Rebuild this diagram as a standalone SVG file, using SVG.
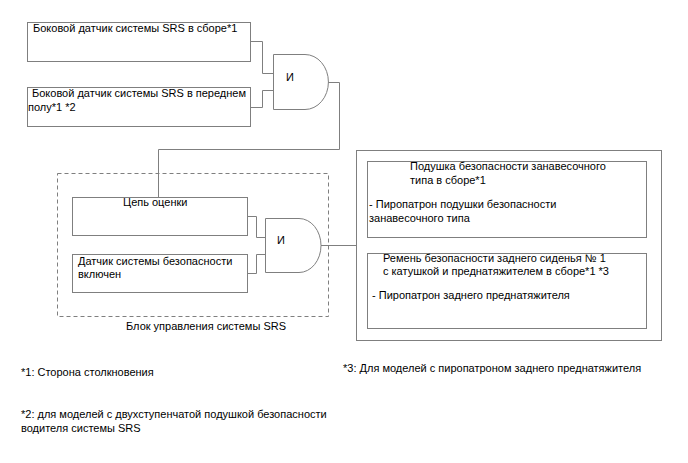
<svg xmlns="http://www.w3.org/2000/svg" width="688" height="463" viewBox="0 0 688 463">
<style>
.b{fill:#fff;stroke:#7f7f7f;stroke-width:1}
.w{fill:none;stroke:#7f7f7f;stroke-width:1}
.d{fill:none;stroke:#7f7f7f;stroke-width:1;stroke-dasharray:4,3}
text{font-family:"Liberation Sans",Arial,sans-serif;font-size:11px;fill:#000}
</style>
<rect width="688" height="463" fill="#fff"/>
<g id="connectors">
<polyline class="w" points="250.5,41.5 262.5,41.5 262.5,73.5 273.5,73.5"/>
<polyline class="w" points="250.5,107.5 262.5,107.5 262.5,90.5 273.5,90.5"/>
<polyline class="w" points="328,82.5 339.5,82.5 339.5,149.5 158.5,149.5 158.5,197.5"/>
<polyline class="w" points="247.5,216.5 256.5,216.5 256.5,237.5 265.5,237.5"/>
<polyline class="w" points="247.5,273.5 256.5,273.5 256.5,254.5 265.5,254.5"/>
<line class="w" x1="321" y1="245.5" x2="356.5" y2="245.5"/>
</g>
<g id="srs-block">
<rect class="d" x="57.5" y="173.5" width="271" height="143"/>
<text x="206" y="330" text-anchor="middle">Блок управления системы SRS</text>
</g>
<g id="side-sensor">
<rect class="b" x="27.5" y="22.5" width="223" height="39"/>
<text x="33" y="32">Боковой датчик системы SRS в сборе*1</text>
</g>
<g id="floor-sensor">
<rect class="b" x="27.5" y="87.5" width="223" height="39"/>
<text x="32" y="97">Боковой датчик системы SRS в переднем</text>
<text x="28" y="111">полу*1 *2</text>
</g>
<g id="and1">
<path class="b" d="M273.5,54.5 H305 A23,27 0 0 1 305,109.5 H273.5 Z"/>
<text x="286" y="81">И</text>
</g>
<g id="eval">
<rect class="b" x="72.5" y="197.5" width="175" height="38"/>
<text x="123" y="206">Цепь оценки</text>
</g>
<g id="belt-sensor">
<rect class="b" x="72.5" y="254.5" width="175" height="38"/>
<text x="78" y="265">Датчик системы безопасности</text>
<text x="78" y="278">включен</text>
</g>
<g id="and2">
<path class="b" d="M265.5,218.5 H299 A22,27 0 0 1 299,272.5 H265.5 Z"/>
<text x="277" y="244">И</text>
</g>
<g id="outputs">
<rect class="b" x="356.5" y="150.5" width="305" height="190"/>
</g>
<g id="curtain">
<rect class="b" x="367.5" y="161.5" width="279" height="76"/>
<text x="410" y="170">Подушка безопасности занавесочного</text>
<text x="410" y="184">типа в сборе*1</text>
<text x="369" y="208">- Пиропатрон подушки безопасности</text>
<text x="369" y="222">занавесочного типа</text>
</g>
<g id="belt">
<rect class="b" x="367.5" y="253.5" width="279" height="75"/>
<text x="383" y="262">Ремень безопасности заднего сиденья № 1</text>
<text x="383" y="275">с катушкой и преднатяжителем в сборе*1 *3</text>
<text x="372" y="299">- Пиропатрон заднего преднатяжителя</text>
</g>
<g id="notes">
<text x="21" y="376">*1: Сторона столкновения</text>
<text x="343" y="372">*3: Для моделей с пиропатроном заднего преднатяжителя</text>
<text x="21" y="418">*2: для моделей с двухступенчатой подушкой безопасности</text>
<text x="21" y="432">водителя системы SRS</text>
</g>
</svg>
